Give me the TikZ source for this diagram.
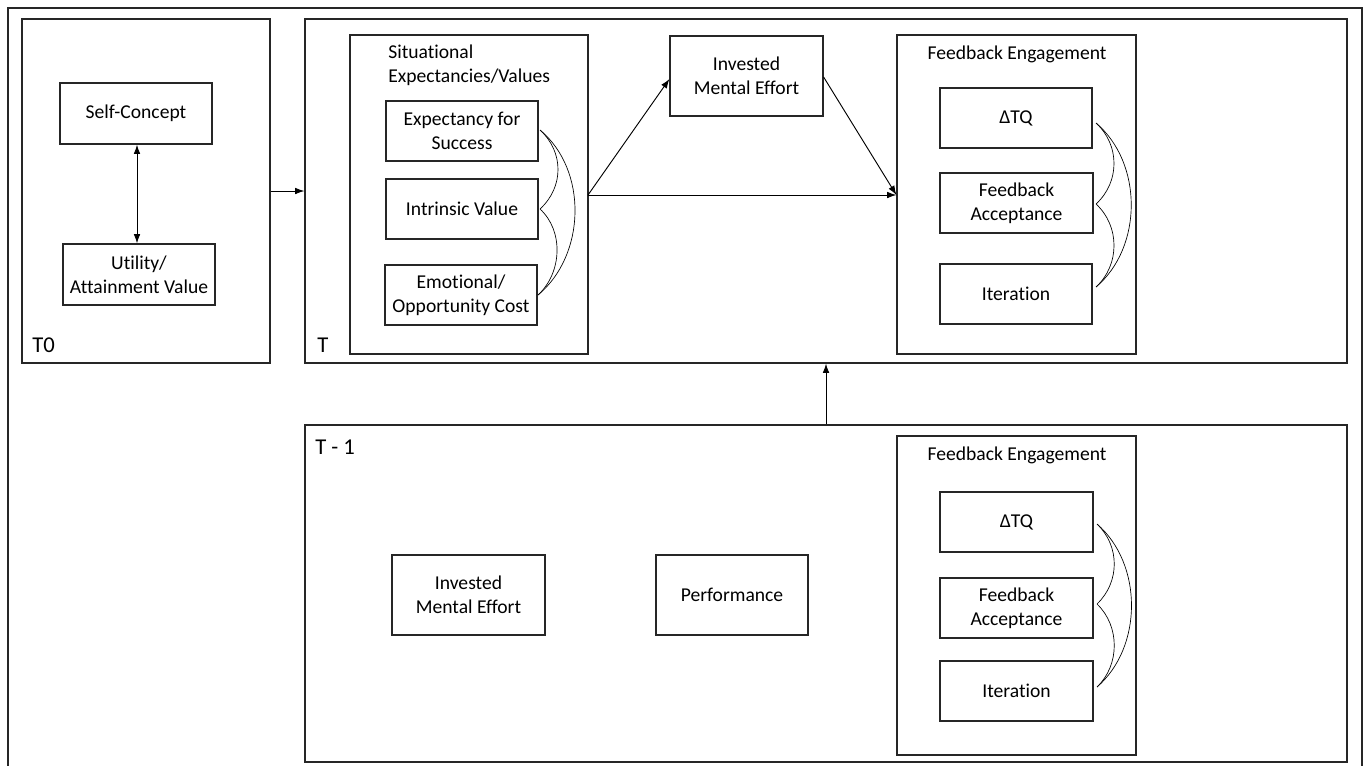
\documentclass[tikz,border=0pt]{standalone}
\usepackage{fontspec}
\setmainfont{Carlito}[Ligatures={NoCommon}]
\usetikzlibrary{arrows.meta,fit}
\begin{document}
\begin{tikzpicture}[x=0.75pt,y=-0.75pt,
  box/.style={draw=black!85,line width=0.9pt,inner sep=0pt,align=center,
    font=\fontsize{14.7}{18}\selectfont},
  bx/.style 2 args={box,minimum width=#1*0.75pt,minimum height=#2*0.75pt},
  frame/.style={draw=black!85,line width=0.9pt,inner sep=0pt},
  lbl/.style={inner sep=0pt,anchor=base west,font=\fontsize{17}{18}\selectfont},
  ttl/.style={inner sep=0pt,align=left,font=\fontsize{14.7}{18}\selectfont},
  arr/.style={line width=0.7pt,-{Latex[length=7pt,width=5pt]}},
  darr/.style={line width=0.7pt,{Latex[length=7pt,width=5pt]}-{Latex[length=7pt,width=5pt]}},
  brace/.style={line width=0.5pt}]
\useasboundingbox (0,0) rectangle (1370,765);
\begin{scope}
\clip (0,0) rectangle (1370,765);
\draw[line width=1.6pt,draw=black!85] (8,8) rectangle (1362,775);
\end{scope}
% T0
\node[frame,fit={(22,19) (270,363)}] (t0) {};
\node[lbl] (t0l) at (32,352) {T0};
\node[bx={152}{61}] (self) at (136,113.5) {Self-Concept};
\node[bx={152}{61}] (util) at (139,274.5) {Utility/\\Attainment Value};
% T
\node[frame,fit={(305,19) (1347,363)}] (t) {};
\node[lbl] (tl) at (317,352) {T};
\node[frame,fit={(350,35) (588,354)}] (sit) {};
\node[ttl,anchor=north west] (sitl) at (388,45) {Situational\\Expectancies/Values};
\node[bx={152}{60}] (exp) at (462,131) {Expectancy for\\Success};
\node[bx={152}{60}] (intr) at (462,209) {Intrinsic Value};
\node[bx={152}{60}] (emo) at (461,295) {Emotional/\\Opportunity Cost};
\node[bx={153}{80}] (ime) at (746.5,76) {Invested\\Mental Effort};
\node[frame,fit={(897,35) (1136,354)}] (fe) {};
\node[ttl,anchor=north] (fel) at (1017,46) {Feedback Engagement};
\node[bx={152}{60}] (dtq) at (1016,118) {ΔTQ};
\node[bx={153}{60}] (fa) at (1016.5,203) {Feedback\\Acceptance};
\node[bx={152}{60}] (it) at (1016,294) {Iteration};
% T-1
\node[frame,fit={(305,425) (1347,762)}] (tm) {};
\node[lbl] (tml) at (315,454) {T - 1};
\node[bx={153}{80}] (ime2) at (468.5,595) {Invested\\Mental Effort};
\node[bx={152}{80}] (perf) at (732,595) {Performance};
\node[frame,fit={(897,436) (1136,755)}] (fe2) {};
\node[ttl,anchor=north] (fel2) at (1017,447) {Feedback Engagement};
\node[bx={153}{60}] (dtq2) at (1016.5,522) {ΔTQ};
\node[bx={153}{60}] (fa2) at (1016.5,608) {Feedback\\Acceptance};
\node[bx={153}{60}] (it2) at (1016.5,691) {Iteration};
% arrows
\draw[darr] (self.south -| 137,0) -- (util.north -| 137,0);
\draw[arr] (t0.east |- 0,191) -- (t.west |- 0,191);
\coordinate (sitr) at (588,195);
\draw[arr] (sitr) -- (ime.west |- 0,79);
\draw[arr] (sitr) -- (fe.west |- sitr);
\draw[arr] (ime.east |- 0,77) -- (fe.west |- sitr);
\draw[arr] (tm.north -| 826,0) -- (t.south -| 826,0);
% braces situational
\coordinate (ea) at (540,130);
\coordinate (ia) at (540,209);
\coordinate (oa) at (538,295);
\draw[brace] (ea) .. controls +(24,22) and +(24,-22) .. (ia);
\draw[brace] (ia) .. controls +(24,22) and +(24,-22) .. (oa);
\draw[brace] (ea) .. controls +(48,40) and +(48,-40) .. (oa);
% braces FE
\coordinate (da) at (1096,123);
\coordinate (fa1) at (1096,204);
\coordinate (ita) at (1096,287);
\draw[brace] (da) .. controls +(24,22) and +(24,-22) .. (fa1);
\draw[brace] (fa1) .. controls +(24,22) and +(24,-22) .. (ita);
\draw[brace] (da) .. controls +(47,40) and +(47,-40) .. (ita);
% braces FE2
\coordinate (db) at (1097,524);
\coordinate (fb) at (1097,604);
\coordinate (itb) at (1097,687);
\draw[brace] (db) .. controls +(23,22) and +(23,-22) .. (fb);
\draw[brace] (fb) .. controls +(23,22) and +(23,-22) .. (itb);
\draw[brace] (db) .. controls +(46,40) and +(46,-40) .. (itb);
\end{tikzpicture}
\end{document}
